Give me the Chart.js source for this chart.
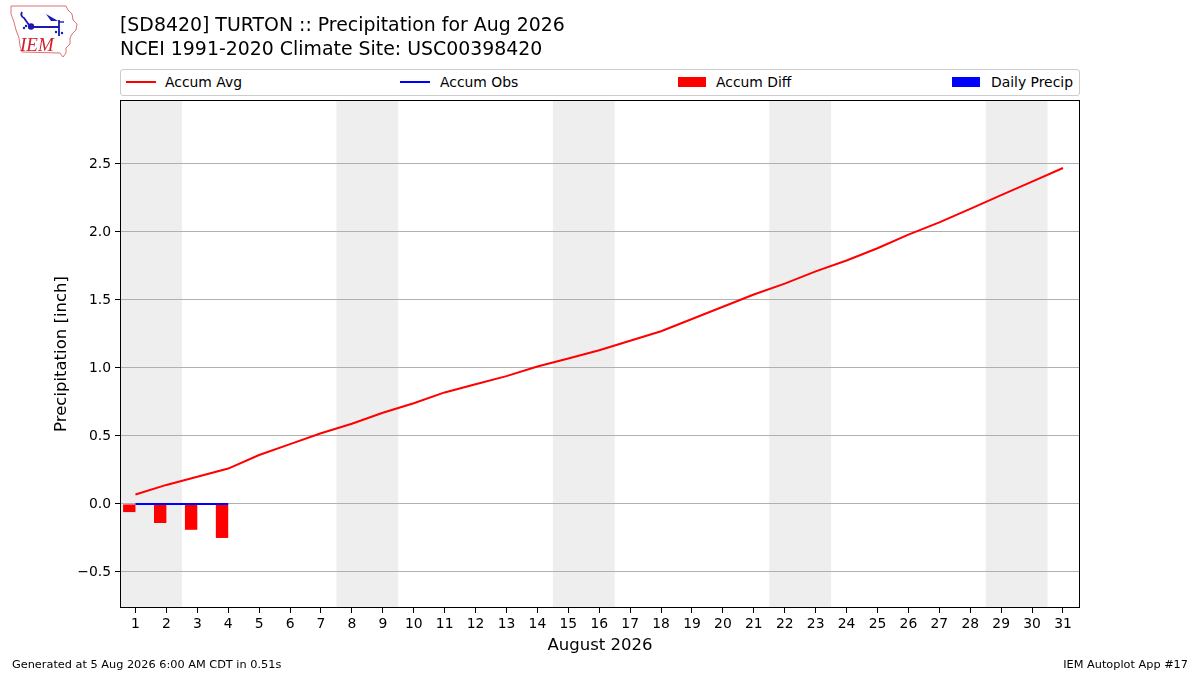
<!DOCTYPE html>
<html>
<head>
<meta charset="utf-8">
<script src="https://cdn.jsdelivr.net/npm/chart.js@4"></script>
<style>
  html, body { margin: 0; padding: 0; background: #ffffff; }
  #wrap { position: relative; width: 1200px; height: 675px; overflow: hidden; font-family: "DejaVu Sans", sans-serif; color: #000; }
  #c { position: absolute; left: 0; top: 0; }
  .t { position: absolute; white-space: nowrap; }
  #title1 { left: 120px; top: 12px; font-size: 18.9px; line-height: 24px; }
  #title2 { left: 120px; top: 36px; font-size: 18.9px; line-height: 24px; }
  #legend { position: absolute; left: 120px; top: 69px; width: 958px; height: 25px; border: 1px solid #cccccc; border-radius: 3px; background: #fff; }
  .lg { position: absolute; font-size: 13.9px; line-height: 16px; top: 4px; }
  .hl { position: absolute; top: 11px; width: 30px; height: 2px; }
  .hb { position: absolute; top: 7px; width: 28px; height: 10px; }
  #foot1 { left: 12px; top: 658px; font-size: 11.3px; }
  #foot2 { right: 12px; top: 658px; font-size: 11.3px; }
  #logo { position: absolute; left: 0; top: 0; }
</style>
</head>
<body>
<div id="wrap">
  <canvas id="c" width="1200" height="675"></canvas>
  <svg id="logo" width="100" height="65" viewBox="0 0 100 65">
    <polygon points="11,6 66,6 68,10 72,14 73,20 77,24 76,30 72,34 70,38 70,44 66,48 66,53 63,57 60,53 22,52 20,46 19,38 16,30 14,22 11,14" fill="#fff" stroke="#e07070" stroke-width="1"/>
    <path d="M22,12 Q20,16 24,18 L29,25" stroke="#1a1ab0" stroke-width="1.8" fill="none"/>
    <line x1="31" y1="27" x2="59" y2="27" stroke="#1a1ab0" stroke-width="2"/>
    <circle cx="31" cy="26.5" r="3.2" fill="#1a1ab0"/>
    <polygon points="46,14 53,18 58,21 51,21" fill="#1a1ab0"/>
    <line x1="59" y1="20" x2="59" y2="36" stroke="#1a1ab0" stroke-width="1.8"/>
    <line x1="59" y1="22" x2="64" y2="22" stroke="#1a1ab0" stroke-width="1.4"/>
    <circle cx="24" cy="28" r="1.2" fill="#1a1ab0"/><circle cx="26" cy="26" r="1.2" fill="#1a1ab0"/>
    <circle cx="56" cy="32" r="1.2" fill="#1a1ab0"/><circle cx="62" cy="33" r="1.2" fill="#1a1ab0"/>
    <text x="20" y="51" font-family="Liberation Serif, DejaVu Serif, serif" font-style="italic" font-size="19" fill="#d02030">IEM</text>
  </svg>
  <div class="t" id="title1">[SD8420] TURTON :: Precipitation for Aug 2026</div>
  <div class="t" id="title2">NCEI 1991-2020 Climate Site: USC00398420</div>
  <div id="legend">
    <div class="hl" style="left:5px;background:#ff0000"></div>
    <div class="lg" style="left:44px">Accum Avg</div>
    <div class="hl" style="left:279px;background:#0000ff"></div>
    <div class="lg" style="left:319px">Accum Obs</div>
    <div class="hb" style="left:557px;background:#ff0000"></div>
    <div class="lg" style="left:595px">Accum Diff</div>
    <div class="hb" style="left:831px;background:#0000ff"></div>
    <div class="lg" style="left:870px">Daily Precip</div>
  </div>
  <div class="t" id="foot1">Generated at 5 Aug 2026 6:00 AM CDT in 0.51s</div>
  <div class="t" id="foot2">IEM Autoplot App #17</div>
</div>
<script>
// ---- data ----
const days = [1,2,3,4,5,6,7,8,9,10,11,12,13,14,15,16,17,18,19,20,21,22,23,24,25,26,27,28,29,30,31];
const accumAvg = [0.07,0.14,0.20,0.26,0.36,0.44,0.52,0.59,0.67,0.74,0.82,0.88,0.94,1.01,1.07,1.13,1.20,1.27,1.36,1.45,1.54,1.62,1.71,1.79,1.88,1.98,2.07,2.17,2.27,2.37,2.47];
const obsDays = [1,2,3,4];
const accumObs = [0.00,0.00,0.00,0.00];
const accumDiff = [-0.06,-0.14,-0.19,-0.25];
const dailyPrecip = [0.00,0.00,0.00,0.00];
const weekendStarts = [1,8,15,22,29];   // Saturday of each weekend
const weekendEnds = [2,9,16,23,30];     // Sunday of each weekend
const yTicks = [-0.5,0.0,0.5,1.0,1.5,2.0,2.5];
const xTicks = days;
const yMin = -0.765, yMax = 2.97;
const xMin = 0.5, xMax = 31.55;

const font = "DejaVu Sans";

const bgPlugin = {
  id: 'bg',
  beforeDraw(chart) {
    const {ctx, chartArea: a, scales: {x}} = chart;
    ctx.save();
    ctx.fillStyle = '#ffffff';
    ctx.fillRect(0, 0, chart.width, chart.height);
    ctx.fillStyle = '#eeeeee';
    weekendStarts.forEach((s, i) => {
      const l = Math.max(a.left, x.getPixelForValue(s - 0.5));
      const r = Math.min(a.right, x.getPixelForValue(weekendEnds[i] + 0.5));
      ctx.fillRect(l, a.top, r - l, a.bottom - a.top);
    });
    ctx.restore();
  },
  afterDraw(chart) {
    const {ctx, chartArea: a} = chart;
    ctx.save();
    ctx.strokeStyle = '#000';
    ctx.lineWidth = 1;
    ctx.strokeRect(Math.round(a.left) + 0.5, Math.round(a.top) + 0.5, Math.round(a.right - a.left) - 1, Math.round(a.bottom - a.top) - 1);
    ctx.restore();
  }
};

new Chart(document.getElementById('c'), {
  type: 'line',
  data: {
    datasets: [
      {
        label: 'Accum Avg', type: 'line',
        data: days.map((d, i) => ({x: d, y: accumAvg[i]})),
        borderColor: '#ff0000', borderWidth: 2, pointRadius: 0, tension: 0, order: 1
      },
      {
        label: 'Accum Obs', type: 'line',
        data: obsDays.map((d, i) => ({x: d, y: accumObs[i]})),
        borderColor: '#0000ff', borderWidth: 2, pointRadius: 0, tension: 0, order: 0
      },
      {
        label: 'Accum Diff', type: 'bar',
        data: obsDays.map((d, i) => ({x: d - 0.2, y: accumDiff[i]})),
        backgroundColor: '#ff0000', borderWidth: 0,
        barPercentage: 0.4, categoryPercentage: 1.0, grouped: false, order: 2
      }
    ]
  },
  options: {
    responsive: false,
    animation: false,
    devicePixelRatio: 1,
    layout: { padding: { left: 0, right: 120, top: 100, bottom: 0 } },
    plugins: { legend: { display: false }, tooltip: { enabled: false }, title: { display: false } },
    scales: {
      x: {
        type: 'linear', min: xMin, max: xMax, offset: false,
        afterBuildTicks: s => { s.ticks = xTicks.map(v => ({value: v})); },
        afterFit: s => { s.height = 67; },
        grid: { offset: false, drawOnChartArea: false, drawTicks: true, tickLength: 5, tickColor: '#000', tickWidth: 1 },
        border: { display: false },
        ticks: { color: '#000', font: { family: font, size: 13.9 }, padding: 3, maxRotation: 0, autoSkip: false,
                 callback: v => String(v) },
        title: { display: true, text: 'August 2026', color: '#000', font: { family: font, size: 16.5 }, padding: { top: 0, bottom: 19 } }
      },
      y: {
        type: 'linear', min: yMin, max: yMax,
        afterBuildTicks: s => { s.ticks = yTicks.map(v => ({value: v})); },
        afterFit: s => { s.width = 120; },
        grid: { color: '#b0b0b0', lineWidth: 1, drawTicks: true, tickLength: 5, tickColor: '#000', tickWidth: 1 },
        border: { display: false },
        ticks: { color: '#000', font: { family: font, size: 13.9 }, padding: 4,
                 callback: v => v.toFixed(1).replace('-', '\u2212') },
        title: { display: true, text: 'Precipitation [inch]', color: '#000', font: { family: font, size: 16.5 }, padding: { top: 52, bottom: 0 } }
      }
    }
  },
  plugins: [bgPlugin]
});
</script>
</body>
</html>
